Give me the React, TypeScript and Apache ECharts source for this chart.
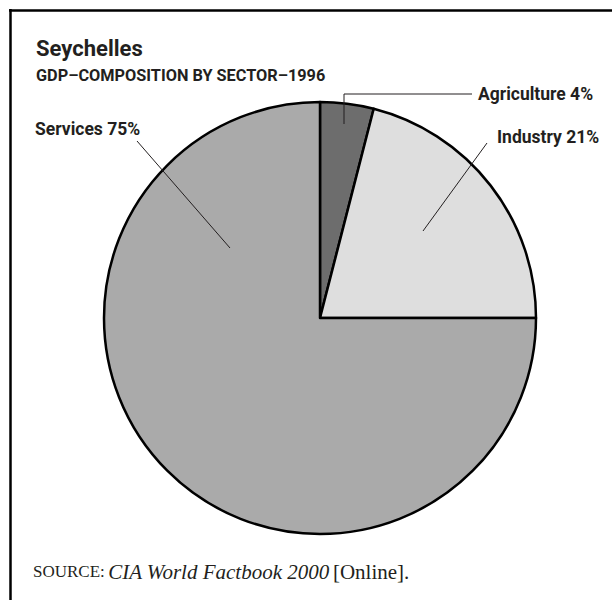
import React, { useEffect, useRef } from "react";
import * as echarts from "echarts";

const sectors = ["Agriculture", "Industry", "Services"];
const shares = [4, 21, 75];
const sliceColors = ["#6d6d6d", "#dedede", "#aaaaaa"];

const titleText = "Seychelles";
const subtitleText = "GDP–COMPOSITION BY SECTOR–1996";

const condensed = "Roboto, 'Liberation Sans', sans-serif";
const serif = "'Liberation Serif', 'DejaVu Serif', serif";
const ink = "#231f20";

// label placement and leader lines (layout only)
const labelPlacement = [
  { x: 478, y: 94, line: [[344, 124], [344, 94], [472, 94]] },
  { x: 497, y: 137, line: [[423, 231], [487, 143]] },
  { x: 35, y: 129, line: [[230, 248], [137, 141]] },
];

export default function App() {
  const ref = useRef<HTMLDivElement>(null);
  useEffect(() => {
    if (!ref.current) return;
    const chart = echarts.init(ref.current, null, { renderer: "svg" });
    chart.setOption({
      animation: false,
      backgroundColor: "#ffffff",
      title: {
        text: titleText,
        subtext: subtitleText,
        left: 31,
        top: 32,
        itemGap: 8,
        textStyle: { fontFamily: condensed, fontWeight: "bold", fontSize: 22, color: ink },
        subtextStyle: { fontFamily: condensed, fontWeight: "bold", fontSize: 16.3, color: ink },
      },
      graphic: [
        { type: "line", shape: { x1: 9, y1: 10.5, x2: 612, y2: 10.5 }, style: { stroke: "#000", lineWidth: 2.5 } },
        { type: "line", shape: { x1: 10.5, y1: 9, x2: 10.5, y2: 600 }, style: { stroke: "#000", lineWidth: 2.5 } },
        ...labelPlacement.map((p) => ({
          type: "polyline",
          z: 10,
          shape: { points: p.line },
          style: { stroke: ink, lineWidth: 1, fill: null },
        })),
        {
          type: "text",
          left: 33,
          top: 561,
          style: {
            text: "{sc|SOURCE:} {it|CIA World Factbook 2000} {n|[Online].}",
            rich: {
              sc: { fontFamily: serif, fontSize: 17, fill: ink },
              it: { fontFamily: serif, fontSize: 21, fontStyle: "italic", fill: ink },
              n: { fontFamily: serif, fontSize: 21, fill: ink },
            },
          },
        },
      ],
      series: [
        {
          type: "pie",
          center: [320, 318],
          radius: 216,
          startAngle: 90,
          clockwise: true,
          z: 2,
          data: sectors.map((s, i) => ({ name: s, value: shares[i], itemStyle: { color: sliceColors[i] } })),
          itemStyle: { borderColor: "#000", borderWidth: 2.5 },
          label: {
            show: true,
            position: "outside",
            formatter: "{b} {c}%",
            fontFamily: condensed,
            fontWeight: "bold",
            fontSize: 17.5,
            color: ink,
            overflow: "none",
          },
          labelLine: { show: false },
          labelLayout: (params: any) => {
            const p = labelPlacement[params.dataIndex];
            return { x: p.x, y: p.y, align: "left", verticalAlign: "middle" };
          },
          emphasis: { disabled: true },
        },
      ],
    });
    return () => chart.dispose();
  }, []);
  return <div ref={ref} style={{ position: "fixed", left: 0, top: 0, width: 612, height: 600 }} />;
}
